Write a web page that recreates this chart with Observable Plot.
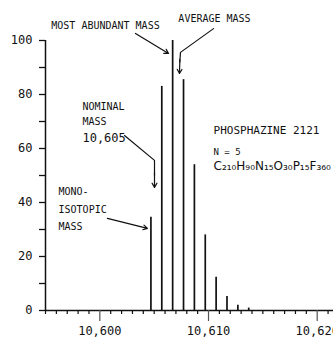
<!DOCTYPE html>
<html>
<head>
<meta charset="utf-8">
<script src="https://cdn.jsdelivr.net/npm/d3@7"></script>
<script src="https://cdn.jsdelivr.net/npm/@observablehq/plot@0.6"></script>
<style>
  html, body { margin: 0; padding: 0; background: #fff; }
  #chart svg { display: block; }
</style>
</head>
<body>
<div id="chart"></div>
<script>
// Peak data (mass, relative intensity)
const masses = [10604.7, 10605.7, 10606.7, 10607.7, 10608.7, 10609.7, 10610.7, 10611.7, 10612.7, 10613.7];
const intensities = [34.5, 83, 100, 85.5, 54, 28, 12.3, 5.2, 1.9, 0.9];

// Axis ticks
const yMajorTicks = [0, 20, 40, 60, 80, 100];
const yMinorTicks = [10, 30, 50, 70, 90];
const xMajorTicks = [10600, 10610, 10620];
const xTickLabels = ["10,600", "10,610", "10,620"];
const xMinorTicks = [10595,10596,10597,10598,10599,10601,10602,10603,10604,10605,10606,10607,10608,10609,10611,10612,10613,10614,10615,10616,10617,10618,10619,10621];

// Annotation texts
const centeredLabels = [
  {t: "MOST ABUNDANT MASS", x: 10600.52, y: 105.6},
  {t: "AVERAGE MASS", x: 10610.55, y: 108.1}
];
const smallLabels = [
  {t: "NOMINAL", x: 10598.4, y: 75.6},
  {t: "MASS", x: 10598.4, y: 70.0},
  {t: "MONO-", x: 10596.2, y: 44.1},
  {t: "ISOTOPIC", x: 10596.2, y: 37.4},
  {t: "MASS", x: 10596.2, y: 31.1}
];
const nominalValue = [{t: "10,605", x: 10598.4, y: 63.7}];
const titleLabel = [{t: "PHOSPHAZINE 2121", x: 10610.46, y: 66.7}];
const nLabel = [{t: "N = 5", x: 10610.46, y: 58.8}];
const formulaLabel = [{t: "C₂₁₀H₉₀N₁₅O₃₀P₁₅F₃₆₀", x: 10610.46, y: 53.3}];

// Annotation leader lines and arrows
const leaderLines = [
  [{x: 10610.46, y: 104.4}, {x: 10607.42, y: 95.6}, {x: 10607.36, y: 92}],
  [{x: 10602.27, y: 64.8}, {x: 10605.03, y: 55.6}, {x: 10605.03, y: 50}]
];
const arrows = [
  {x1: 10603.28, y1: 102.6, x2: 10606.32, y2: 95.2},
  {x1: 10607.36, y1: 93, x2: 10607.33, y2: 87.8},
  {x1: 10605.03, y1: 51, x2: 10605.03, y2: 45.6},
  {x1: 10600.70, y1: 34.1, x2: 10604.38, y2: 30.4}
];

const peaks = masses.map((m, i) => ({mass: m, value: intensities[i]}));

const chart = Plot.plot({
  width: 333,
  height: 340,
  marginLeft: 45,
  marginRight: 0,
  marginTop: 40,
  marginBottom: 30,
  x: {domain: [10595, 10621.5]},
  y: {domain: [0, 100]},
  style: {fontFamily: "DejaVu Sans Mono", fontSize: "11px", background: "#fff", color: "#111", overflow: "visible"},
  marks: [
    Plot.ruleX(peaks, {x: "mass", y1: 0, y2: "value", stroke: "#111", strokeWidth: 1.7}),
    Plot.ruleX([10595], {y1: 0, y2: 100, stroke: "#111", strokeWidth: 1.5}),
    Plot.ruleY([0], {stroke: "#111", strokeWidth: 1.5}),
    Plot.axisY({ticks: yMajorTicks, tickSize: 6, tickPadding: 7, fontSize: 12, stroke: "#111", strokeWidth: 1.3}),
    Plot.axisY({ticks: yMinorTicks, tickSize: 6, tickFormat: () => "", stroke: "#111", strokeWidth: 1.3}),
    Plot.axisX({ticks: xMinorTicks, tickSize: 4, tickFormat: () => "", stroke: "#111", strokeWidth: 1.2}),
    Plot.axisX({ticks: xMajorTicks, tickSize: 11, tickPadding: 5, fontSize: 12, tickFormat: (d, i) => xTickLabels[i], stroke: "#555", strokeWidth: 1.2}),
    ...leaderLines.map(pts => Plot.line(pts, {x: "x", y: "y", stroke: "#111", strokeWidth: 1.2, clip: false})),
    Plot.arrow(arrows, {x1: "x1", y1: "y1", x2: "x2", y2: "y2", stroke: "#111", strokeWidth: 1.2, headLength: 6, clip: false}),
    Plot.text(centeredLabels, {x: "x", y: "y", text: "t", textAnchor: "middle", fontSize: 10, fill: "#111", clip: false}),
    Plot.text(smallLabels, {x: "x", y: "y", text: "t", textAnchor: "start", fontSize: 10, fill: "#111", clip: false}),
    Plot.text(nominalValue, {x: "x", y: "y", text: "t", textAnchor: "start", fontSize: 12, fill: "#111", clip: false}),
    Plot.text(titleLabel, {x: "x", y: "y", text: "t", textAnchor: "start", fontSize: 11, fill: "#111", clip: false}),
    Plot.text(nLabel, {x: "x", y: "y", text: "t", textAnchor: "start", fontSize: 9, fill: "#111", clip: false}),
    Plot.text(formulaLabel, {x: "x", y: "y", text: "t", textAnchor: "start", fontSize: 12, fontFamily: "DejaVu Sans", fill: "#111", clip: false})
  ]
});
document.getElementById("chart").appendChild(chart);
</script>
</body>
</html>
